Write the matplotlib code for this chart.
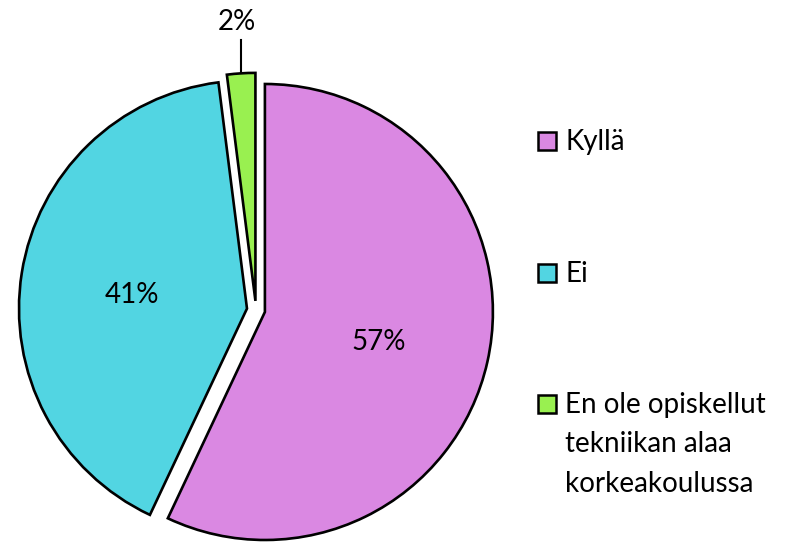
import matplotlib.pyplot as plt
from matplotlib.patches import Rectangle
import numpy as np

# Vastausten osuudet (%)
labels = ["Kyllä", "Ei", "En ole opiskellut\ntekniikan alaa\nkorkeakoulussa"]
values = [57, 41, 2]
colors = ["#DA88E2", "#52D5E2", "#99F050"]

W, H = 794, 542
fig = plt.figure(figsize=(W / 100, H / 100), dpi=100)
plt.rcParams['font.family'] = ['Lato', 'DejaVu Sans']

# pie centre (256, 310) px from top-left, radius 228 px
cx, cy, r = 256, 310, 228
ax = fig.add_axes([(cx - r) / W, (H - cy - r) / H, 2 * r / W, 2 * r / H])

wedges, _ = ax.pie(values, colors=colors, startangle=90, counterclock=False,
                   explode=[0.04, 0.04, 0.04],
                   wedgeprops=dict(edgecolor="black", linewidth=1.9))
for w in wedges:
    w.set_clip_on(False)
ax.set_xlim(-1, 1)
ax.set_ylim(-1, 1)
ax.set_aspect("equal")
ax.axis("off")

fs = 20
for i, w in enumerate(wedges):
    mid = np.deg2rad((w.theta1 + w.theta2) / 2)
    x0, y0 = w.center
    txt = f"{values[i]}%"
    if values[i] > 5:
        ax.text(x0 + 0.51 * np.cos(mid), y0 + 0.51 * np.sin(mid) - 0.02, txt,
                ha="center", va="center", fontsize=fs)
    else:
        ex, ey = x0 + np.cos(mid), y0 + np.sin(mid)
        ax.plot([ex, ex], [ey, (cy - 40) / r], color="black", lw=1.5,
                clip_on=False)
        ax.text(ex - 4 / r, (cy - 30) / r, txt, ha="center", va="baseline",
                fontsize=fs)

# legend drawn by hand
baselines = [150, 282, 413]
line_step = 39.5
for lab, col, yb in zip(labels, colors, baselines):
    fig.patches.append(Rectangle((538 / W, (H - yb) / H), 18 / W, 18 / H,
                                 transform=fig.transFigure, facecolor=col,
                                 edgecolor="black", linewidth=1.8))
    for k, line in enumerate(lab.split("\n")):
        fig.text(565 / W, (H - yb - k * line_step) / H, line, ha="left",
                 va="baseline", fontsize=fs)

plt.savefig("out.png", dpi=100)
